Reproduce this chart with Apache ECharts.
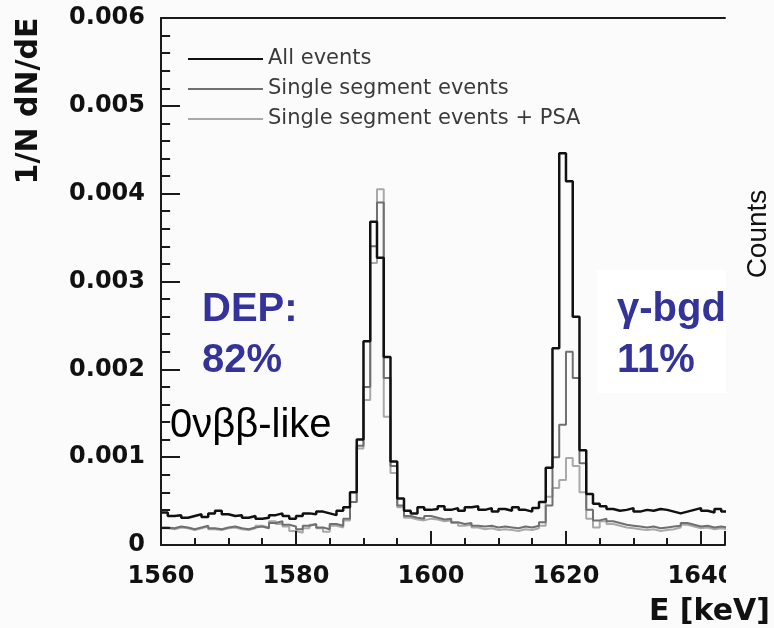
<!DOCTYPE html>
<html>
<head>
<meta charset="utf-8">
<script src="https://cdn.jsdelivr.net/npm/echarts@6/dist/echarts.min.js"></script>
<style>html,body{margin:0;padding:0;background:#fbfbfb;}#c{width:774px;height:628px;}</style>
</head>
<body>
<div id="c"></div>
<script>
// Histogram bins: 1 keV wide, starting at 1560 keV
const binStart = 1560;
const binWidth = 1;
const seriesNames = ['All events', 'Single segment events', 'Single segment events + PSA'];

const allEvents = [
  0.00037,0.00033,0.00034,0.00031,0.00033,0.00035,0.00032,0.00036,0.00039,0.00035,
  0.00033,0.00034,0.00031,0.00033,0.00030,0.00031,0.00034,0.00036,0.00033,0.00030,
  0.00033,0.00036,0.00035,0.00038,0.00036,0.00034,0.00039,0.00043,0.00060,0.00120,
  0.00232,0.00368,0.00327,0.00214,0.00095,0.00053,0.00039,0.00036,0.00043,0.00040,
  0.00041,0.00044,0.00040,0.00042,0.00039,0.00043,0.00044,0.00040,0.00042,0.00038,
  0.00041,0.00039,0.00043,0.00040,0.00038,0.00042,0.00049,0.00088,0.00224,0.00446,
  0.00414,0.00260,0.00108,0.00058,0.00047,0.00044,0.00041,0.00039,0.00040,0.00042,
  0.00038,0.00040,0.00039,0.00041,0.00040,0.00038,0.00036,0.00038,0.00040,0.00042,
  0.00039,0.00037,0.00041,0.00038
];
const singleSeg = [
  0.00020,0.00019,0.00021,0.00020,0.00018,0.00020,0.00022,0.00019,0.00018,0.00020,
  0.00021,0.00019,0.00018,0.00020,0.00021,0.00019,0.00025,0.00027,0.00023,0.00021,
  0.00018,0.00022,0.00024,0.00020,0.00018,0.00024,0.00022,0.00030,0.00049,0.00113,
  0.00180,0.00340,0.00390,0.00190,0.00090,0.00045,0.00033,0.00031,0.00030,0.00033,
  0.00031,0.00029,0.00030,0.00026,0.00024,0.00025,0.00022,0.00021,0.00022,0.00020,
  0.00021,0.00020,0.00019,0.00021,0.00020,0.00022,0.00026,0.00045,0.00100,0.00137,
  0.00220,0.00190,0.00093,0.00040,0.00028,0.00030,0.00027,0.00025,0.00023,0.00022,
  0.00021,0.00020,0.00021,0.00019,0.00020,0.00021,0.00022,0.00025,0.00023,0.00021,
  0.00022,0.00020,0.00021,0.00020
];
const singleSegPSA = [
  0.00019,0.00018,0.00020,0.00019,0.00017,0.00019,0.00021,0.00018,0.00017,0.00019,
  0.00020,0.00018,0.00017,0.00019,0.00022,0.00020,0.00027,0.00024,0.00021,0.00016,
  0.00014,0.00019,0.00023,0.00019,0.00015,0.00022,0.00020,0.00028,0.00049,0.00110,
  0.00165,0.00321,0.00405,0.00146,0.00082,0.00043,0.00031,0.00029,0.00028,0.00030,
  0.00029,0.00027,0.00028,0.00025,0.00022,0.00023,0.00020,0.00018,0.00019,0.00017,
  0.00018,0.00017,0.00016,0.00018,0.00017,0.00019,0.00022,0.00055,0.00065,0.00074,
  0.00099,0.00090,0.00060,0.00030,0.00020,0.00027,0.00024,0.00022,0.00020,0.00019,
  0.00018,0.00017,0.00018,0.00016,0.00017,0.00018,0.00020,0.00023,0.00021,0.00019,
  0.00020,0.00018,0.00019,0.00018
];
const xTickLabels = ['1560', '1580', '1600', '1620', '1640'];
const yTickLabels = ['0', '0.001', '0.002', '0.003', '0.004', '0.005', '0.006'];

function toSteps(vals) {
  const pts = vals.map((v, i) => [binStart + i * binWidth, v]);
  pts.push([binStart + vals.length * binWidth, vals[vals.length - 1]]);
  return pts;
}

const xMin = 1560, xMax = 1643.56, yMin = 0, yMax = 0.006;
// Axis frame + tick segments in data units (ticks every 5 keV and every 0.0002)
const frameSegs = [
  {coords: [[xMin, yMin], [xMin, yMax]]},
  {coords: [[xMin, yMin], [xMax, yMin]]},
  {coords: [[xMin, yMax], [xMax, yMax]]}
];
for (let k = 0; k < 30; k++) {
  const v = k * 0.0002;
  const len = k % 5 === 0 ? 2.8 : 1.35;      // keV
  frameSegs.push({coords: [[xMin, v], [xMin + len, v]]});
}
for (let k = 0; k <= 16; k++) {
  const e = 1560 + k * 5;
  const len = k % 4 === 0 ? 0.00016 : 0.00008; // 1/N dN/dE units
  frameSegs.push({coords: [[e, yMin], [e, yMin + len]]});
}

const chart = echarts.init(document.getElementById('c'));
const axisColor = '#1a1a1a';
const blue = '#333399';

chart.setOption({
  backgroundColor: '#fbfbfb',
  animation: false,
  grid: {left: 161, right: 49, top: 18, bottom: 83},
  legend: {
    orient: 'vertical', left: 182, top: 43,
    itemWidth: 75, itemHeight: 14, itemGap: 8,
    data: seriesNames,
    itemStyle: {opacity: 0},
    textStyle: {fontFamily: 'DejaVu Sans', fontSize: 21, color: '#3a3a3a', lineHeight: 22}
  },
  xAxis: [{
    type: 'value', min: xMin, max: xMax, interval: 20,
    axisLine: {show: true, onZero: false, lineStyle: {color: axisColor, width: 2}},
    axisTick: {show: true, inside: true, length: 14, lineStyle: {color: axisColor, width: 2}},
    minorTick: {show: true, splitNumber: 4, length: 7, lineStyle: {color: axisColor, width: 2}},
    axisLabel: {margin: 20, showMaxLabel: false,
      fontFamily: 'DejaVu Sans', fontWeight: 'bold', fontSize: 24, color: '#111',
      formatter: v => xTickLabels[Math.round((v - 1560) / 20)] || ''},
    splitLine: {show: false}, minorSplitLine: {show: false}
  }, {
    type: 'value', position: 'top', min: xMin, max: xMax,
    axisLine: {show: true, onZero: false, lineStyle: {color: axisColor, width: 2}},
    axisTick: {show: false}, axisLabel: {show: false}, splitLine: {show: false}
  }],
  yAxis: {
    type: 'value', min: yMin, max: yMax, interval: 0.001,
    axisLine: {show: true, lineStyle: {color: axisColor, width: 2}},
    axisTick: {show: true, inside: true, length: 19, lineStyle: {color: axisColor, width: 2}},
    minorTick: {show: true, splitNumber: 5, length: 9, lineStyle: {color: axisColor, width: 2}},
    axisLabel: {margin: 16,
      fontFamily: 'DejaVu Sans', fontWeight: 'bold', fontSize: 24, color: '#111',
      formatter: v => yTickLabels[Math.round(v / 0.001)]},
    splitLine: {show: false}, minorSplitLine: {show: false}
  },
  series: [
    {name: 'frame', type: 'lines', coordinateSystem: 'cartesian2d', xAxisIndex: 0, yAxisIndex: 0,
     polyline: false, clip: false, silent: true, z: 5, data: frameSegs,
     lineStyle: {color: axisColor, width: 2, opacity: 1, curveness: 0}},
    {name: seriesNames[2], type: 'line', step: 'end', symbol: 'none', data: toSteps(singleSegPSA),
     lineStyle: {color: '#a9a9a9', width: 2}, itemStyle: {color: '#a9a9a9'}},
    {name: seriesNames[1], type: 'line', step: 'end', symbol: 'none', data: toSteps(singleSeg),
     lineStyle: {color: '#707070', width: 2}, itemStyle: {color: '#707070'}},
    {name: seriesNames[0], type: 'line', step: 'end', symbol: 'none', data: toSteps(allEvents),
     lineStyle: {color: '#111111', width: 2.5}, itemStyle: {color: '#111111'}}
  ],
  graphic: [
    {type: 'rect', shape: {x: 726, y: 0, width: 48, height: 596}, style: {fill: '#fbfbfb'}, z: 100},
    {type: 'rect', shape: {x: 597, y: 270, width: 133, height: 123}, style: {fill: '#ffffff'}, z: 99},
    {type: 'text', x: 29, y: 101, rotation: Math.PI / 2, z: 101,
     style: {text: '1/N dN/dE', fontFamily: 'DejaVu Sans', fontWeight: 'bold', fontSize: 30,
             fill: '#111', textAlign: 'center', textVerticalAlign: 'middle'}},
    {type: 'text', x: 770, y: 627, z: 101,
     style: {text: 'E [keV]', fontFamily: 'DejaVu Sans', fontWeight: 'bold', fontSize: 30,
             fill: '#111', textAlign: 'right', textVerticalAlign: 'bottom'}},
    {type: 'text', x: 758, y: 234, rotation: Math.PI / 2, z: 101,
     style: {text: 'Counts', fontFamily: 'Liberation Sans', fontSize: 28,
             fill: '#111', textAlign: 'center', textVerticalAlign: 'middle'}},
    {type: 'text', x: 202, y: 330, z: 101,
     style: {text: 'DEP:', fontFamily: 'Liberation Sans', fontWeight: 'bold', fontSize: 40,
             fill: blue, textAlign: 'left', textVerticalAlign: 'bottom'}},
    {type: 'text', x: 202, y: 381, z: 101,
     style: {text: '82%', fontFamily: 'Liberation Sans', fontWeight: 'bold', fontSize: 40,
             fill: blue, textAlign: 'left', textVerticalAlign: 'bottom'}},
    {type: 'text', x: 617, y: 330, z: 101,
     style: {text: 'γ-bgd', fontFamily: 'Liberation Sans', fontWeight: 'bold', fontSize: 40,
             fill: blue, textAlign: 'left', textVerticalAlign: 'bottom'}},
    {type: 'text', x: 617, y: 381, z: 101,
     style: {text: '11%', fontFamily: 'Liberation Sans', fontWeight: 'bold', fontSize: 40,
             fill: blue, textAlign: 'left', textVerticalAlign: 'bottom'}},
    {type: 'text', x: 170, y: 446, z: 101,
     style: {text: '0νββ-like', fontFamily: 'Liberation Sans', fontSize: 40,
             fill: '#000', textAlign: 'left', textVerticalAlign: 'bottom'}}
  ]
});
</script>
</body>
</html>
